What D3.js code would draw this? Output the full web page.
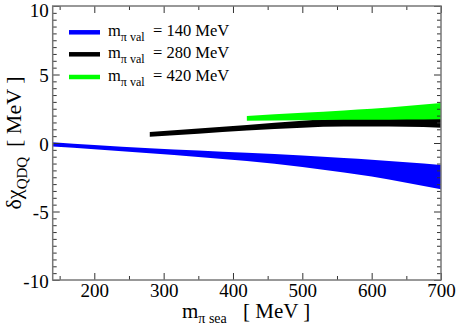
<!DOCTYPE html>
<html>
<head>
<meta charset="UTF-8">
<title>delta chi QDQ</title>
<script src="https://d3js.org/d3.v7.min.js"></script>
</head>
<body style="margin:0">
	<div id="svg-container"></div>
	<script type="text/javascript">

		// sea pion mass points (MeV)
		let mSea = [140, 200, 280, 350, 420, 500, 560, 600, 650, 700];

		// band edges, one pair per valence mass
		let val140Hi = [0.05, -0.15, -0.38, -0.55, -0.72, -0.92, -1.10, -1.22, -1.40, -1.60];
		let val140Lo = [-0.25, -0.45, -0.75, -1.02, -1.32, -1.75, -2.15, -2.45, -2.90, -3.38];

		let val280Hi = [null, null, 0.80, 1.05, 1.32, 1.62, 1.80, 1.85, 1.82, 1.76];
		let val280Lo = [null, null, 0.45, 0.68, 0.92, 1.12, 1.20, 1.20, 1.18, 1.12];

		let val420Hi = [null, null, null, null, 1.97, 2.20, 2.38, 2.50, 2.70, 2.92];
		let val420Lo = [null, null, null, null, 1.62, 1.66, 1.69, 1.70, 1.72, 1.74];

		let seriesNames = ["140", "280", "420"];
		let seriesColors = ["#0000ff", "#000000", "#00ff00"];

		let xTicks = [200, 300, 400, 500, 600, 700];
		let yTicks = [-10, -5, 0, 5, 10];

		let width = 457, height = 327;
		let plotL = 52.7, plotR = 441, plotT = 6, plotB = 280;
		let face = "'Times New Roman'";

		let svg = d3.select("#svg-container")
			.append("svg")
			.attr("width", width)
			.attr("height", height);

		let x = d3.scaleLinear().domain([140, 700]).range([plotL, plotR]);
		let y = d3.scaleLinear().domain([-10, 10]).range([plotB, plotT]);

		// bands
		let bands = [
			[val140Hi, val140Lo],
			[val280Hi, val280Lo],
			[val420Hi, val420Lo]
		];

		let area = d3.area()
			.x(d => x(d.m))
			.y0(d => y(d.lo))
			.y1(d => y(d.hi))
			.curve(d3.curveMonotoneX);

		bands.forEach((b, i) => {
			let rows = mSea.map((m, j) => ({ m: m, hi: b[0][j], lo: b[1][j] }))
				.filter(d => d.hi !== null);
			svg.append("path")
				.datum(rows)
				.attr("d", area)
				.attr("fill", seriesColors[i]);
		});

		// axes: ticks pointing inwards on all four sides
		let xMinor = d3.range(150, 701, 50).filter(v => v % 100 !== 0);
		let yMinor = d3.range(-10, 10.01, 0.5).filter(v => v % 5 !== 0);

		function styleAxis(g) {
			g.attr("font-family", null).attr("font-size", null);
			g.select(".domain").remove();
			g.selectAll("line").attr("stroke", "#333").attr("stroke-width", 1);
			g.selectAll("text")
				.style("font-family", face)
				.style("font-size", "19px");
		}

		svg.append("g").attr("transform", `translate(0,${plotB})`)
			.call(d3.axisBottom(x).tickValues(xTicks).tickSizeInner(-7).tickSizeOuter(0).tickPadding(4))
			.call(styleAxis);
		svg.append("g").attr("transform", `translate(0,${plotB})`)
			.call(d3.axisBottom(x).tickValues(xMinor).tickSizeInner(-4).tickSizeOuter(0).tickFormat(""))
			.call(styleAxis);
		svg.append("g").attr("transform", `translate(0,${plotT})`)
			.call(d3.axisTop(x).tickValues(xTicks).tickSizeInner(-7).tickSizeOuter(0).tickFormat(""))
			.call(styleAxis);
		svg.append("g").attr("transform", `translate(0,${plotT})`)
			.call(d3.axisTop(x).tickValues(xMinor).tickSizeInner(-4).tickSizeOuter(0).tickFormat(""))
			.call(styleAxis);

		let yAx = svg.append("g").attr("transform", `translate(${plotL},0)`)
			.call(d3.axisLeft(y).tickValues(yTicks).tickSizeInner(-7).tickSizeOuter(0).tickPadding(4)
				.tickFormat(d => String(d)))
			.call(styleAxis);
		yAx.selectAll("text").attr("dy", d => d === 10 ? "0.55em" : "0.37em");
		svg.append("g").attr("transform", `translate(${plotL},0)`)
			.call(d3.axisLeft(y).tickValues(yMinor).tickSizeInner(-4).tickSizeOuter(0).tickFormat(""))
			.call(styleAxis);
		svg.append("g").attr("transform", `translate(${plotR},0)`)
			.call(d3.axisRight(y).tickValues(yTicks).tickSizeInner(-7).tickSizeOuter(0).tickFormat(""))
			.call(styleAxis);
		svg.append("g").attr("transform", `translate(${plotR},0)`)
			.call(d3.axisRight(y).tickValues(yMinor).tickSizeInner(-4).tickSizeOuter(0).tickFormat(""))
			.call(styleAxis);

		// frame
		svg.append("rect")
			.attr("x", plotL).attr("y", plotT)
			.attr("width", plotR - plotL).attr("height", plotB - plotT)
			.attr("fill", "none")
			.attr("stroke", "#777")
			.attr("stroke-width", 1.5);

		// legend
		let legY = [32.3, 54.3, 77];
		seriesNames.forEach((name, i) => {
			svg.append("line")
				.attr("x1", 69).attr("x2", 100)
				.attr("y1", legY[i]).attr("y2", legY[i])
				.attr("stroke", seriesColors[i])
				.attr("stroke-width", 4.5);
			let t = svg.append("text")
				.attr("x", 108).attr("y", legY[i] + 3.5)
				.style("font-family", face)
				.style("font-size", "16.5px");
			t.append("tspan").text("m");
			t.append("tspan").style("font-size", "12px").attr("dy", 5).text("\u03c0 val");
			t.append("tspan").attr("x", 153).attr("dy", -5).text("= " + name + " MeV");
		});

		// axis titles
		let xt = svg.append("text")
			.attr("x", 182).attr("y", 318)
			.style("font-family", face)
			.style("font-size", "21px");
		xt.append("tspan").text("m");
		xt.append("tspan").style("font-size", "14px").attr("dy", 5).text("\u03c0 sea");
		xt.append("tspan").attr("dy", -5).attr("x", 243).text("[ MeV ]");

		let yt = svg.append("text")
			.attr("transform", `translate(21,143) rotate(-90)`)
			.attr("text-anchor", "middle")
			.style("font-family", face)
			.style("font-size", "22px");
		yt.append("tspan").text("\u03b4\u03c7");
		yt.append("tspan").style("font-size", "15px").attr("dy", 6).text("QDQ");
		yt.append("tspan").attr("dy", -6).text("\u2009 [ MeV ]");

	</script>
</body>
</html>
